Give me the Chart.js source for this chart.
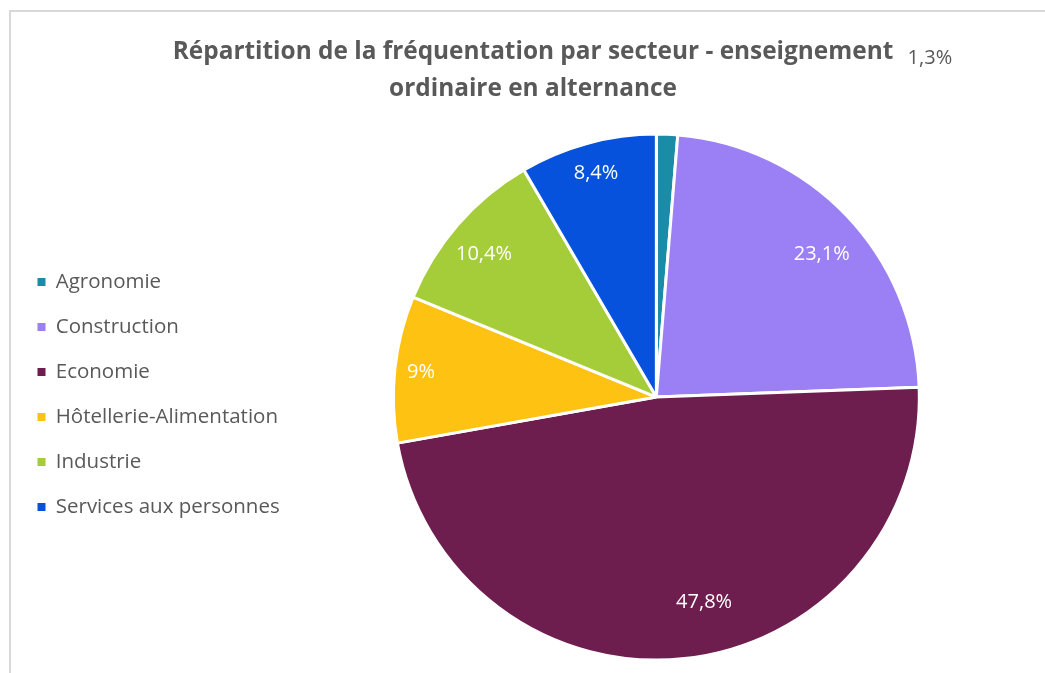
<!DOCTYPE html>
<html>
<head>
<meta charset="utf-8">
<script src="https://cdn.jsdelivr.net/npm/chart.js@4.4.0/dist/chart.umd.min.js"></script>
<style>
  html, body { margin: 0; padding: 0; background: #fff; }
  #frame { position: absolute; left: 9px; top: 10px; width: 1100px; height: 700px; border: 2px solid #d9d9d9; box-sizing: border-box; }
  #wrap { position: absolute; left: 0; top: 0; width: 1045px; height: 673px; }
</style>
</head>
<body>
<div id="frame"></div>
<div id="wrap"><canvas id="pie" width="1045" height="673"></canvas></div>
<script>
const sectors = ["Agronomie", "Construction", "Economie", "Hôtellerie-Alimentation", "Industrie", "Services aux personnes"];
const shares = [1.3, 23.1, 47.8, 9, 10.4, 8.4];
const sectorColors = ["#1a8ca5", "#9b7ff5", "#6d1e4f", "#fec212", "#a5cd39", "#0652dd"];

const FONT = "'Open Sans', 'Noto Sans', sans-serif";

// labels drawn on (or next to) each slice, Excel style
const sliceLabels = {
  id: "sliceLabels",
  afterLayout(chart, args, opts) {
    // title is centred on the whole frame, not on the canvas minus padding
    chart.titleBlock.left += opts.titleShift;
    chart.titleBlock.right += opts.titleShift;
  },
  afterDatasetsDraw(chart, args, opts) {
    const { ctx } = chart;
    const arcs = chart.getDatasetMeta(0).data;
    ctx.save();
    ctx.font = opts.font;
    ctx.textAlign = "center";
    ctx.textBaseline = "middle";
    arcs.forEach((arc, i) => {
      const mid = (arc.startAngle + arc.endAngle) / 2 + opts.turn[i] * Math.PI / 180;
      const text = shares[i].toLocaleString("fr-FR") + "%";
      let x, y;
      if (shares[i] < 3) {
        // tiny slice: label pushed out to the top right corner
        x = arc.x + arc.outerRadius * 1.04;
        y = arc.y - arc.outerRadius * 1.29;
        ctx.fillStyle = "#595959";
      } else {
        const r = arc.outerRadius * opts.radius[i];
        x = arc.x + Math.cos(mid) * r;
        y = arc.y + Math.sin(mid) * r;
        ctx.fillStyle = "#ffffff";
      }
      ctx.fillText(text, x, y);
    });
    ctx.restore();
  },
};

new Chart(document.getElementById("pie"), {
  type: "pie",
  data: {
    labels: sectors,
    datasets: [{
      data: shares,
      backgroundColor: sectorColors,
      borderColor: "#ffffff",
      borderWidth: 3,
      radius: 263,
    }],
  },
  plugins: [sliceLabels],
  options: {
    responsive: false,
    animation: false,
    events: [],
    layout: { padding: { top: 10, bottom: 12, left: 13, right: 22 } },
    plugins: {
      title: {
        display: true,
        text: ["Répartition de la fréquentation par secteur - enseignement", "ordinaire en alternance"],
        color: "#595959",
        font: { family: FONT, size: 24.4, weight: "bold", lineHeight: 1.5 },
        padding: { top: 24, bottom: 26 },
      },
      legend: {
        position: "left",
        // empty title only pushes the items down
        title: { display: true, text: "", font: { size: 10, lineHeight: 1.2 }, padding: { top: 106, bottom: 0 } },
        labels: {
          boxWidth: 8,
          boxHeight: 8,
          padding: 24.5,
          color: "#595959",
          font: { family: FONT, size: 20.5 },
          generateLabels(chart) {
            return Chart.overrides.pie.plugins.legend.labels.generateLabels(chart)
              .map(item => ({ ...item, lineWidth: 0 }));
          },
        },
      },
      tooltip: { enabled: false },
      sliceLabels: {
        font: "20px " + FONT,
        titleShift: 15,
        radius: [0, 0.83, 0.8, 0.9, 0.85, 0.88],
        turn: [0, 3, -7, 0, -1.5, 0],
      },
    },
  },
});
</script>
</body>
</html>
